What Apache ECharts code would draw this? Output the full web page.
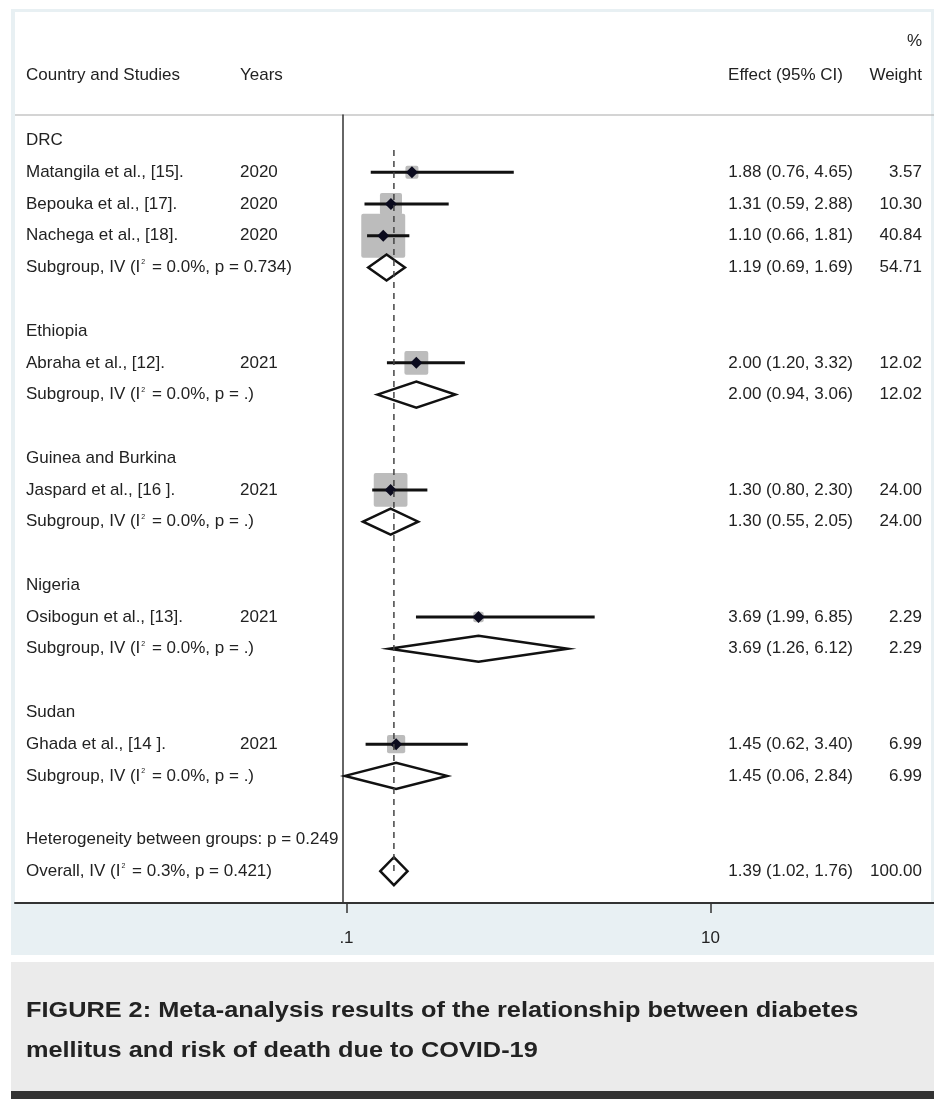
<!DOCTYPE html>
<html><head><meta charset="utf-8">
<script src="https://cdn.jsdelivr.net/npm/echarts@6/dist/echarts.min.js"></script>
<style>html,body{margin:0;padding:0;background:#fff;overflow:hidden}#c{width:934px;height:1099px}</style>
</head><body><div id="c"></div>
<script>
// ---------------- data ----------------
const groupNames = ['DRC', 'Ethiopia', 'Guinea and Burkina', 'Nigeria', 'Sudan'];
const groupRows = [0, 6, 10, 14, 18];

const studyNames = ['Matangila et al., [15].', 'Bepouka et al., [17].', 'Nachega et al., [18].',
  'Abraha et al., [12].', 'Jaspard et al., [16 ].', 'Osibogun et al., [13].', 'Ghada et al., [14 ].'];
const studyYears = ['2020', '2020', '2020', '2021', '2021', '2021', '2021'];
const studyRows = [1, 2, 3, 7, 11, 15, 19];
const studyEffect = [1.88, 1.31, 1.10, 2.00, 1.30, 3.69, 1.45];
const studyLower = [0.76, 0.59, 0.66, 1.20, 0.80, 1.99, 0.62];
const studyUpper = [4.65, 2.88, 1.81, 3.32, 2.30, 6.85, 3.40];
const studyWeight = [3.57, 10.30, 40.84, 12.02, 24.00, 2.29, 6.99];

const subRows = [4, 8, 12, 16, 20];
const subI2 = ['0.0%', '0.0%', '0.0%', '0.0%', '0.0%'];
const subP = ['0.734', '.', '.', '.', '.'];
const subEffect = [1.19, 2.00, 1.30, 3.69, 1.45];
const subLower = [0.69, 0.94, 0.55, 1.26, 0.06];
const subUpper = [1.69, 3.06, 2.05, 6.12, 2.84];
const subWeight = [54.71, 12.02, 24.00, 2.29, 6.99];

const heteroRow = 22;
const heteroText = 'Heterogeneity between groups: p = 0.249';
const overallRow = 23;
const overallI2 = '0.3%';
const overallP = '0.421';
const overallEffect = 1.39, overallLower = 1.02, overallUpper = 1.76, overallWeight = 100.00;

const xTickValues = [0.1, 10];
const xTickLabels = ['.1', '10'];

const headerCols = ['Country and Studies', 'Years', 'Effect (95% CI)', 'Weight'];
const headerPct = '%';
const captionLines = ['FIGURE 2: Meta-analysis results of the relationship between diabetes',
  'mellitus and risk of death due to COVID-19'];

// ---------------- layout constants ----------------
const FONT = 'Arial, "Liberation Sans", sans-serif';
const FS = 17;
const TXT = '#222';
const ZERO_X = 342.8, PX_PER_UNIT = 36.77, GRID_L = 15, GRID_R = 934;
const GRID_TOP = 115, GRID_BOTTOM_Y = 903;
const ROW_MIN = -0.8, ROW_MAX = 24;
const xMin = (GRID_L - ZERO_X) / PX_PER_UNIT, xMax = (GRID_R - ZERO_X) / PX_PER_UNIT;
const COL_NAME = 26, COL_YEAR = 240, COL_CI = 853, COL_WT = 922;
const SQ_K = 6.88;
const DASH_START_ROW = 0.3;

// ---------------- build rows of text ----------------
function fmtCI(e, l, u) { return e.toFixed(2) + ' (' + l.toFixed(2) + ', ' + u.toFixed(2) + ')'; }
const textRows = [];
groupNames.forEach((g, i) => textRows.push({ row: groupRows[i], left: g }));
studyNames.forEach((n, i) => textRows.push({
  row: studyRows[i], left: n, year: studyYears[i],
  ci: fmtCI(studyEffect[i], studyLower[i], studyUpper[i]), wt: studyWeight[i].toFixed(2)
}));
subRows.forEach((r, i) => textRows.push({
  row: r, left: 'Subgroup, IV (I{s|2} = ' + subI2[i] + ', p = ' + subP[i] + ')',
  ci: fmtCI(subEffect[i], subLower[i], subUpper[i]), wt: subWeight[i].toFixed(2)
}));
textRows.push({ row: heteroRow, left: heteroText });
textRows.push({
  row: overallRow, left: 'Overall, IV (I{s|2} = ' + overallI2 + ', p = ' + overallP + ')',
  ci: fmtCI(overallEffect, overallLower, overallUpper), wt: overallWeight.toFixed(2)
});

const richSup = { s: { fontSize: 7, fontFamily: FONT, fill: TXT, verticalAlign: 'top', lineHeight: 12, padding: [0, 2, 0, 1] } };

function txt(x, y, s, align) {
  return { type: 'text', style: { x: x, y: y, text: s, fill: TXT, fontSize: FS, fontFamily: FONT,
    align: align || 'left', verticalAlign: 'middle', rich: richSup } };
}

const chart = echarts.init(document.getElementById('c'), null, { renderer: 'canvas' });

const option = {
  backgroundColor: '#ffffff',
  animation: false,
  grid: { left: GRID_L, right: 934 - GRID_R, top: GRID_TOP, bottom: 1099 - GRID_BOTTOM_Y, containLabel: false },
  xAxis: {
    type: 'value', min: xMin, max: xMax, z: 5,
    axisLine: { show: true, onZero: false, lineStyle: { color: '#333', width: 2 } },
    axisTick: { show: true, length: 10, customValues: xTickValues, lineStyle: { color: '#333', width: 1.5 } },
    axisLabel: { show: true, customValues: xTickValues, margin: 27, fontSize: FS, fontFamily: FONT, color: TXT,
      formatter: v => { const i = xTickValues.findIndex(t => Math.abs(t - v) < 1e-9); return i >= 0 ? xTickLabels[i] : ''; } },
    splitLine: { show: false }
  },
  yAxis: {
    type: 'value', inverse: true, min: ROW_MIN, max: ROW_MAX, z: 5,
    axisLine: { show: true, onZero: true, lineStyle: { color: '#333', width: 1.5 } },
    axisTick: { show: false }, axisLabel: { show: false }, splitLine: { show: false }
  },
  graphic: [
    { type: 'rect', z: -10, silent: true, shape: { x: 11, y: 9, width: 923, height: 946 }, style: { fill: '#e8f0f3' } },
    { type: 'rect', z: -9, silent: true, shape: { x: 15, y: 12, width: 916, height: 891 }, style: { fill: '#ffffff' } },
    { type: 'line', z: -8, silent: true, shape: { x1: 15, y1: GRID_TOP, x2: 934, y2: GRID_TOP }, style: { stroke: '#a9a9a9', lineWidth: 1.2 } },
    { type: 'rect', z: -10, silent: true, shape: { x: 11, y: 962, width: 923, height: 129 }, style: { fill: '#ebebeb' } },
    { type: 'rect', z: -10, silent: true, shape: { x: 11, y: 1091, width: 923, height: 8 }, style: { fill: '#333333' } },
    { type: 'text', style: { x: COL_NAME, y: 75, text: headerCols[0], fill: TXT, fontSize: FS, fontFamily: FONT, verticalAlign: 'middle' } },
    { type: 'text', style: { x: COL_YEAR, y: 75, text: headerCols[1], fill: TXT, fontSize: FS, fontFamily: FONT, verticalAlign: 'middle' } },
    { type: 'text', style: { x: 843, y: 75, text: headerCols[2], fill: TXT, fontSize: FS, fontFamily: FONT, align: 'right', verticalAlign: 'middle' } },
    { type: 'text', style: { x: COL_WT, y: 75, text: headerCols[3], fill: TXT, fontSize: FS, fontFamily: FONT, align: 'right', verticalAlign: 'middle' } },
    { type: 'text', style: { x: COL_WT, y: 41, text: headerPct, fill: TXT, fontSize: FS, fontFamily: FONT, align: 'right', verticalAlign: 'middle' } },
    { type: 'text', x: COL_NAME, y: 1011, scaleX: 1.15, style: { x: 0, y: 0, text: captionLines[0], fill: '#222', fontSize: 22, fontWeight: 'bold', fontFamily: FONT, verticalAlign: 'middle' } },
    { type: 'text', x: COL_NAME, y: 1051, scaleX: 1.15, style: { x: 0, y: 0, text: captionLines[1], fill: '#222', fontSize: 22, fontWeight: 'bold', fontFamily: FONT, verticalAlign: 'middle' } }
  ],
  series: [
    { // study squares, CI lines and point markers
      type: 'custom', z: 10, clip: false,
      data: studyEffect.map((e, i) => [e, studyRows[i], studyLower[i], studyUpper[i], studyWeight[i]]),
      encode: { x: [0, 2, 3], y: 1 },
      renderItem: (params, api) => {
        const c = api.coord([api.value(0), api.value(1)]);
        const lo = api.coord([api.value(2), api.value(1)]);
        const hi = api.coord([api.value(3), api.value(1)]);
        const s = SQ_K * Math.sqrt(api.value(4));
        return { type: 'group', children: [
          { type: 'rect', shape: { x: c[0] - s / 2, y: c[1] - s / 2, width: s, height: s, r: 2 }, style: { fill: '#bcbcbc' } },
          { type: 'line', z2: 2, shape: { x1: lo[0], y1: c[1], x2: hi[0], y2: c[1] }, style: { stroke: '#111', lineWidth: 3 } },
          { type: 'polygon', z2: 3, shape: { points: [[c[0] - 6, c[1]], [c[0], c[1] - 6], [c[0] + 6, c[1]], [c[0], c[1] + 6]] }, style: { fill: '#0b0b1e' } }
        ] };
      }
    },
    { // subgroup + overall diamonds
      type: 'custom', z: 11, clip: false,
      data: subEffect.map((e, i) => [e, subRows[i], subLower[i], subUpper[i], 13])
        .concat([[overallEffect, overallRow, overallLower, overallUpper, 14]]),
      encode: { x: [0, 2, 3], y: 1 },
      renderItem: (params, api) => {
        const c = api.coord([api.value(0), api.value(1)]);
        const lo = api.coord([api.value(2), api.value(1)]);
        const hi = api.coord([api.value(3), api.value(1)]);
        const h = api.value(4);
        return { type: 'polygon', shape: { points: [[lo[0], c[1]], [c[0], c[1] - h], [hi[0], c[1]], [c[0], c[1] + h]] },
          style: { fill: '#fff', stroke: '#111', lineWidth: 2.5, lineJoin: 'miter' } };
      }
    },
    { // dashed overall-effect line
      type: 'custom', z: 12, clip: false,
      data: [[overallEffect, DASH_START_ROW, overallRow]],
      encode: { x: 0, y: [1, 2] },
      renderItem: (params, api) => {
        const a = api.coord([api.value(0), api.value(1)]);
        const b = api.coord([api.value(0), api.value(2)]);
        return { type: 'line', shape: { x1: a[0], y1: a[1], x2: b[0], y2: b[1] },
          style: { stroke: '#444', lineWidth: 1.5, lineDash: [6, 5] } };
      }
    },
    { // text columns
      type: 'custom', z: 13, clip: false,
      data: textRows.map(r => [0, r.row]),
      encode: { x: 0, y: 1 },
      renderItem: (params, api) => {
        const r = textRows[params.dataIndex];
        const y = api.coord([0, api.value(1)])[1];
        const ch = [txt(COL_NAME, y, r.left)];
        if (r.year) ch.push(txt(COL_YEAR, y, r.year));
        if (r.ci) ch.push(txt(COL_CI, y, r.ci, 'right'));
        if (r.wt) ch.push(txt(COL_WT, y, r.wt, 'right'));
        return { type: 'group', children: ch };
      }
    }
  ]
};
chart.setOption(option);
</script></body></html>
